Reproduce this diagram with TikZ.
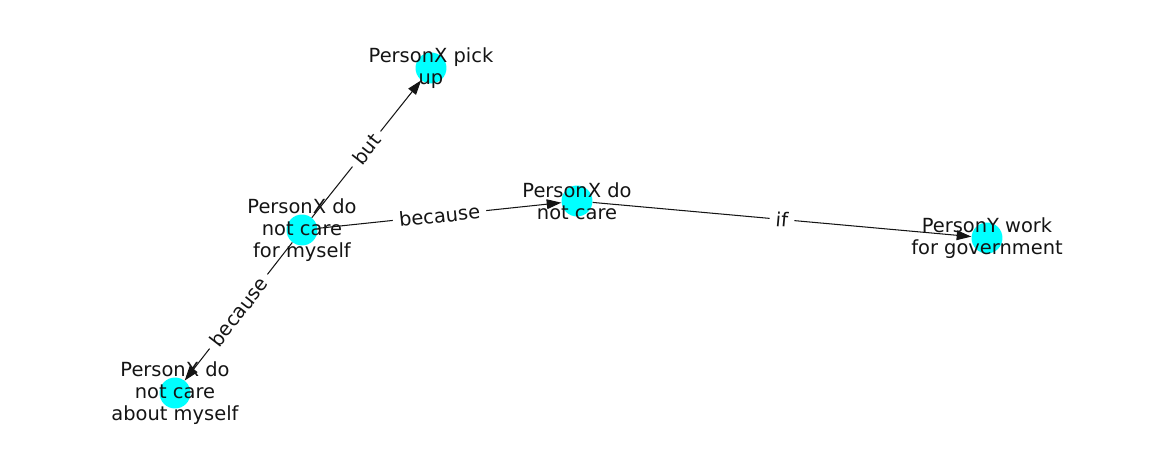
\documentclass[tikz,border=0pt]{standalone}
\usepackage{fontspec}
\setmainfont{DejaVu Sans}
\usetikzlibrary{arrows.meta}
\definecolor{nodecyan}{RGB}{0,255,255}
\definecolor{ink}{RGB}{20,20,20}
\begin{document}
\begin{tikzpicture}[x=0.72pt,y=-0.72pt,
  vtx/.style={circle,fill=nodecyan,minimum size=22.3pt,inner sep=0pt},
  lbl/.style={font=\fontsize{14}{16}\selectfont,align=center,inner sep=0pt,text=ink},
  conn/.style={draw=ink,line width=0.75pt,-{Triangle[length=10.5pt,width=7pt]}},
  elbl/.style={midway,sloped,fill=white,inner sep=4.5pt,text=ink,font=\fontsize{14}{16}\selectfont}]
\useasboundingbox (0,0) rectangle (1162,462);
\node[vtx] (a) at (302,230) {};
\node[vtx] (b) at (431,68) {};
\node[vtx] (c) at (577,201) {};
\node[vtx] (d) at (987,238) {};
\node[vtx] (e) at (175,393) {};
\draw[conn] (a) -- node[elbl]{but} (b);
\draw[conn] (a) -- node[elbl]{because} (c);
\draw[conn] (c) -- node[elbl]{if} (d);
\draw[conn] (a) -- node[elbl]{because} (e);
\node[lbl] (ta) at (302,230) {PersonX do\\not care\\for myself};
\node[lbl] (tb) at (431,68) {PersonX pick\\up};
\node[lbl] (tc) at (577,201) {PersonX do\\not care};
\node[lbl] (td) at (987,238) {PersonY work\\for government};
\node[lbl] (te) at (175,393) {PersonX do\\not care\\about myself};
\end{tikzpicture}
\end{document}
